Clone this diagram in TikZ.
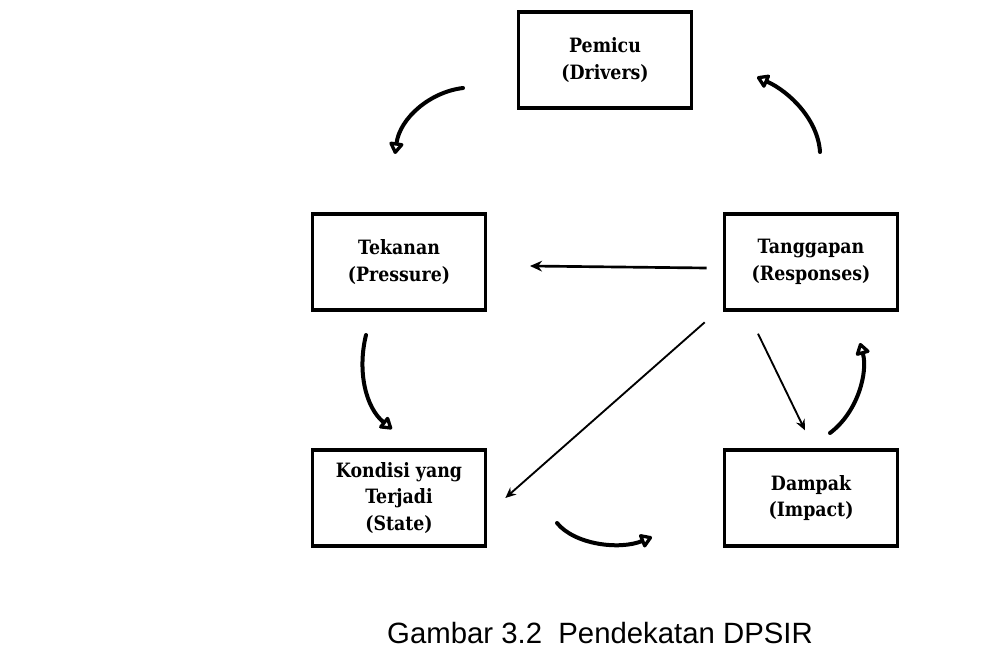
\documentclass[tikz,border=0pt]{standalone}
\usepackage{fontspec}
\setmainfont{DejaVu Serif}[FakeStretch=0.88]
\newfontfamily\capfont{Liberation Sans}
\usepackage{tikz}
\usetikzlibrary{positioning,arrows.meta}
\tikzstyle{factor}     = [rectangle, minimum width=130pt, minimum height=72pt, line width=2.5pt, text centered, align=center, draw=black, font=\fontsize{14.8}{20}\selectfont\bfseries]
\tikzstyle{arrow}      = [line width=2pt, -{Stealth[length=9pt, width=8pt]}]
\tikzstyle{thinarrow}  = [line width=1.4pt, -{Stealth[length=8pt, width=7pt]}]
\tikzstyle{curvearrow} = [line width=3pt, line cap=round, -{Triangle[open, length=10pt, width=12pt, line width=2.6pt, round]}]

\begin{document}
\begin{tikzpicture}[x=0.75pt, y=-0.75pt, node distance=177pt]
        \useasboundingbox (0,0) rectangle (982,652);
        \node (drive) [factor] at (605,60) {Pemicu\\(Drivers)};
        \node (press) [factor, below of=drive, xshift=-154.5pt, yshift=25.5pt] {Tekanan\\(Pressure)};
        \node (resp) [factor, right of=press, xshift=132pt] {Tanggapan\\(Responses)};
        \node (state) [factor, below of=press] {Kondisi yang\\Terjadi\\(State)};
        \node (impact) [factor, below of=resp] {Dampak\\(Impact)};
        \node (caption) [anchor=base, font=\capfont\fontsize{22}{26}\selectfont] at (600,643) {Gambar 3.2\ \ Pendekatan DPSIR};

        \coordinate (dp1) at (463,88);  \coordinate (dp2) at (395,154);
        \coordinate (rd1) at (820,152); \coordinate (rd2) at (757,77);
        \coordinate (ps1) at (366,335); \coordinate (ps2) at (392,429);
        \coordinate (si1) at (557,523); \coordinate (si2) at (652,537);
        \coordinate (ir1) at (830,433); \coordinate (ir2) at (860,343);

        \draw [curvearrow] (dp1) .. controls (430,92) and (400,118) .. (dp2);
        \draw [curvearrow] (rd1) .. controls (818,120) and (790,92) .. (rd2);
        \draw [curvearrow] (ps1) .. controls (357,372) and (366,408) .. (ps2);
        \draw [curvearrow] (si1) .. controls (575,545) and (620,550) .. (si2);
        \draw [curvearrow] (ir1) .. controls (858,412) and (868,372) .. (ir2);
        \draw [arrow] ([xshift=-12pt, yshift=-4.5pt]resp.west) -- ([xshift=32pt, yshift=-3pt]press.east);
        \draw [thinarrow] ([xshift=-13.5pt, yshift=-8pt]resp.south west) -- ([xshift=13.5pt]state.east);
        \draw [thinarrow] ([xshift=-39.75pt, yshift=-16.5pt]resp.south) -- ([xshift=-4.5pt, yshift=13.5pt]impact.north);
    \end{tikzpicture}
\end{document}
